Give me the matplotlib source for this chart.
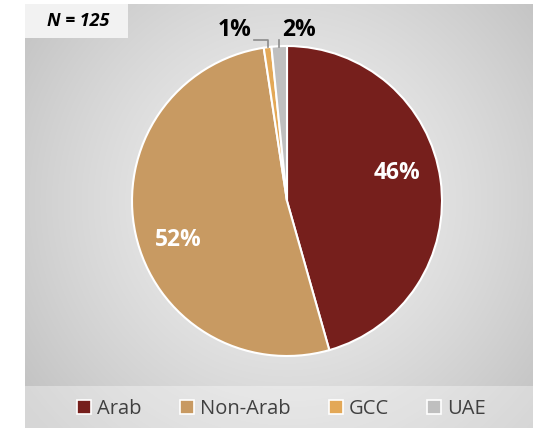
import numpy as np
import matplotlib
matplotlib.use("Agg")
import matplotlib.pyplot as plt
from matplotlib.patches import Patch, Rectangle

labels = ["Arab", "Non-Arab", "GCC", "UAE"]
counts = [57, 65, 1, 2]
pct_text = ["46%", "52%", "1%", "2%"]
colors = ["#761F1C", "#C89A62", "#E3A857", "#BFBFBF"]
n_text = "N = 125"

plt.rcParams['font.family'] = ['Open Sans', 'DejaVu Sans']

W, H = 536, 428
fig = plt.figure(figsize=(W / 100, H / 100), dpi=100)
fig.patch.set_facecolor("white")

# background panel with radial gradient
bg = fig.add_axes([25 / W, 0, (533 - 25) / W, (H - 4) / H])
bg.set_axis_off()
yy, xx = np.mgrid[0:424, 0:508]
cx, cy = 287 - 25, 197
d = np.sqrt((xx - cx) ** 2 + (yy - cy) ** 2) / 330.0
d = np.clip(d, 0, 1)
shade = 0.95 - 0.19 * d ** 1.3
img = np.dstack([shade, shade, shade])
bg.imshow(img, extent=[0, 508, 424, 0], aspect="auto")
bg.set_xlim(0, 508)
bg.set_ylim(424, 0)
# legend band
bg.add_patch(Rectangle((0, 382), 508, 42, facecolor="white", alpha=0.35, lw=0))
# N box
bg.add_patch(Rectangle((0, 0), 103, 34, facecolor="#F2F2F2", lw=0))
bg.text(53, 17, n_text, ha="center", va="center", fontsize=13,
        fontweight="bold", style="italic", color="black")

# pie
r = 155
ax = fig.add_axes([(287 - r) / W, (H - 201 - r) / H, 2 * r / W, 2 * r / H])
wedges, _ = ax.pie(counts, colors=colors, startangle=90, counterclock=False,
                   wedgeprops=dict(edgecolor="white", linewidth=1.5))
ax.set_xlim(-1, 1)
ax.set_ylim(-1, 1)
ax.set_aspect("equal")
ax.set_axis_off()

# inside labels
ax.text(0.71, 0.18, pct_text[0], ha="center", va="center", color="white",
        fontsize=16.5, fontweight="bold")
ax.text(-0.70, -0.25, pct_text[1], ha="center", va="center", color="white",
        fontsize=16.5, fontweight="bold")

# outside labels with leader lines
for i, (tx, side) in zip([2, 3], [(-0.34, "right"), (0.08, "left")]):
    w = wedges[i]
    mid = np.deg2rad((w.theta1 + w.theta2) / 2)
    x0 = np.cos(mid)
    ax.text(tx, 1.1, pct_text[i], ha="center", va="center", color="black",
            fontsize=16.5, fontweight="bold", clip_on=False)
    if side == "right":
        xs = [tx + 0.13, x0, x0]
    else:
        xs = [tx - 0.13, x0, x0]
    ax.plot(xs, [1.04, 1.04, 0.995], color="#8C8C8C", lw=1.2, clip_on=False)

handles = [Patch(facecolor=c, edgecolor="white", linewidth=1.2) for c in colors]
fig.legend(handles, labels, loc="center", bbox_to_anchor=(0.525, 0.045), ncol=4,
           frameon=False, fontsize=14.5, handlelength=0.7, handleheight=0.7,
           handletextpad=0.3, columnspacing=1.9, labelcolor="#404040")

fig.savefig("out.png", dpi=100)
